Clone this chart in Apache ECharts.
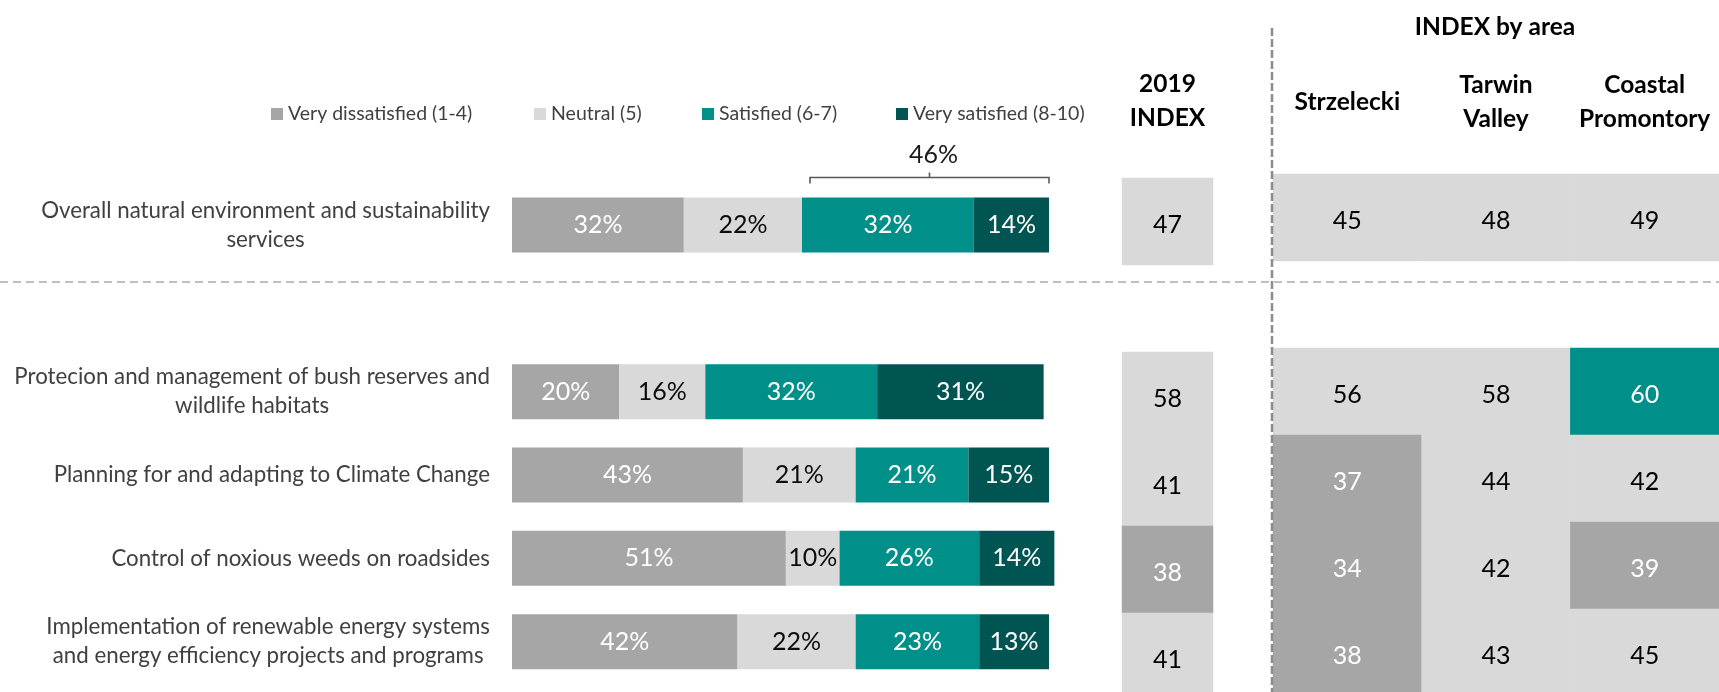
<!DOCTYPE html>
<html>
<head>
<meta charset="utf-8">
<title>Natural environment and sustainability services</title>
<script src="https://cdn.jsdelivr.net/npm/echarts@6/dist/echarts.min.js"></script>
<style>
  html, body { margin: 0; padding: 0; background: #ffffff; }
  #chart { width: 1719px; height: 692px; }
</style>
</head>
<body>
<div id="chart"></div>
<script>
// Service rows (row 1 is an empty spacer between the overall score and the individual services)
const categories = [
  'Overall natural environment and sustainability\nservices',
  '',
  'Protecion and management of bush reserves and\nwildlife habitats',
  'Planning for and adapting to Climate Change',
  'Control of noxious weeds on roadsides',
  'Implementation of renewable energy systems\nand energy efficiency projects and programs'
];

// Satisfaction distribution, % of respondents
const seriesNames = ['Very dissatisfied (1-4)', 'Neutral (5)', 'Satisfied (6-7)', 'Very satisfied (8-10)'];
const veryDissatisfied = [32, null, 20, 43, 51, 42];
const neutral          = [22, null, 16, 21, 10, 22];
const satisfied        = [32, null, 32, 21, 26, 23];
const verySatisfied    = [14, null, 31, 15, 14, 13];

// Index scores
const indexColumn = ['2019\nINDEX'];
const index2019   = [47, null, 58, 41, 38, 41];
const areas       = ['Strzelecki', 'Tarwin\nValley', 'Coastal\nPromontory'];
const strzelecki  = [45, null, 56, 37, 34, 38];
const tarwinValley = [48, null, 58, 44, 42, 43];
const coastalPromontory = [49, null, 60, 42, 39, 45];

const COLORS = {
  darkGrey: '#A6A6A6',
  lightGrey: '#D9D9D9',
  teal: '#009089',
  darkTeal: '#005452'
};
const FONT = 'Lato, "Open Sans", sans-serif';

// Shading rule for index cells: below 40 dark grey, 60+ teal, otherwise light grey
function cellColor(v) {
  if (v < 40) return COLORS.darkGrey;
  if (v >= 60) return COLORS.teal;
  return COLORS.lightGrey;
}
function cellTextColor(v) {
  return (v < 40 || v >= 60) ? '#ffffff' : '#000000';
}
function heatData(columns) {
  const out = [];
  columns.forEach(function (col, x) {
    col.forEach(function (v, y) {
      if (v === null) return;
      out.push({
        value: [x, y, v],
        itemStyle: { color: cellColor(v) },
        label: { color: cellTextColor(v) }
      });
    });
  });
  return out;
}

const rowKeys = categories.map(function (_, i) { return String(i); });

// Bracket over the satisfied share of the overall row
const bracketData = [[
  veryDissatisfied[0] + neutral[0],
  veryDissatisfied[0] + neutral[0] + satisfied[0] + verySatisfied[0],
  0,
  satisfied[0] + verySatisfied[0]
]];

const barSeriesData = [veryDissatisfied, neutral, satisfied, verySatisfied];
const barColors = [COLORS.darkGrey, COLORS.lightGrey, COLORS.teal, COLORS.darkTeal];
const barLabelColors = ['#ffffff', '#0d0d0d', '#ffffff', '#ffffff'];

const barSeries = barSeriesData.map(function (values, i) {
  return {
    name: seriesNames[i],
    type: 'bar',
    stack: 'total',
    xAxisIndex: 0,
    yAxisIndex: 0,
    barWidth: 55,
    clip: false,
    data: values,
    itemStyle: { color: barColors[i] },
    label: {
      show: true,
      position: 'inside',
      formatter: function (p) { return p.value + '%'; },
      color: barLabelColors[i],
      fontFamily: FONT,
      fontSize: 25
    },
    emphasis: { disabled: true }
  };
});

const legendStarts = [271, 534, 702, 896];
const legends = seriesNames.map(function (name, i) {
  return {
    data: [name],
    left: legendStarts[i],
    top: 104,
    padding: 0,
    icon: 'rect',
    itemWidth: 12,
    itemHeight: 12,
    selectedMode: false,
    textStyle: { color: '#404040', fontFamily: FONT, fontSize: 19.5 }
  };
});

const headerLabel = {
  show: true,
  fontFamily: FONT,
  fontSize: 24.5,
  fontWeight: 'bold',
  color: '#000000',
  lineHeight: 34,
  verticalAlign: 'middle'
};

const cellLabel = {
  show: true,
  fontFamily: FONT,
  fontSize: 25,
  offset: [0, 3],
  formatter: function (p) { return p.value[2]; }
};

const option = {
  animation: false,
  backgroundColor: '#ffffff',
  textStyle: { fontFamily: FONT },
  legend: legends,
  grid: [
    { left: 512, width: 537, top: 183.33, height: 500, outerBoundsMode: 'none' },
    { left: 1122, width: 91, top: 178, height: 522, outerBoundsMode: 'none' },
    { left: 1273, width: 446, top: 174, height: 522, outerBoundsMode: 'none' }
  ],
  xAxis: [
    { gridIndex: 0, type: 'value', min: 0, max: 100, show: false },
    {
      gridIndex: 1, type: 'category', position: 'top', data: indexColumn,
      axisLine: { show: false }, axisTick: { show: false },
      axisLabel: Object.assign({ margin: 77 }, headerLabel)
    },
    {
      gridIndex: 2, type: 'category', position: 'top', data: areas,
      axisLine: { show: false }, axisTick: { show: false },
      axisLabel: Object.assign({ margin: 72, interval: 0 }, headerLabel)
    }
  ],
  yAxis: [
    {
      gridIndex: 0, type: 'category', inverse: true, data: categories,
      axisLine: { show: false }, axisTick: { show: false }, splitLine: { show: false },
      axisLabel: {
        margin: 22,
        interval: 0,
        align: 'right',
        formatter: function (v) {
          if (!v) return '';
          return v.split('\n').map(function (line) { return '{c|' + line + '}'; }).join('\n');
        },
        rich: {
          c: { align: 'center', color: '#404040', fontFamily: FONT, fontSize: 22.3, lineHeight: 29 }
        }
      }
    },
    { gridIndex: 1, type: 'category', inverse: true, data: rowKeys, show: false },
    { gridIndex: 2, type: 'category', inverse: true, data: rowKeys, show: false }
  ],
  series: barSeries.concat([
    {
      type: 'custom',
      xAxisIndex: 0,
      yAxisIndex: 0,
      data: bracketData,
      silent: true,
      renderItem: function (params, api) {
        const a = api.coord([api.value(0), api.value(2)]);
        const b = api.coord([api.value(1), api.value(2)]);
        const x0 = a[0] + 8;
        const x1 = b[0];
        const top = a[1] - 27.5 - 20;
        const mid = (x0 + x1) / 2;
        const stroke = { stroke: '#595959', lineWidth: 1.6, fill: null };
        return {
          type: 'group',
          children: [
            { type: 'polyline', shape: { points: [[x0, top + 6], [x0, top], [x1, top], [x1, top + 6]] }, style: stroke },
            { type: 'line', shape: { x1: mid, y1: top, x2: mid, y2: top - 5 }, style: stroke },
            {
              type: 'text',
              x: mid + 4, y: top - 23,
              style: {
                text: api.value(3) + '%',
                textAlign: 'center', textVerticalAlign: 'middle',
                fill: '#1a1a1a', font: '25px ' + FONT
              }
            }
          ]
        };
      }
    },
    {
      type: 'heatmap',
      xAxisIndex: 1,
      yAxisIndex: 1,
      data: heatData([index2019]),
      label: cellLabel,
      emphasis: { disabled: true }
    },
    {
      type: 'heatmap',
      xAxisIndex: 2,
      yAxisIndex: 2,
      data: heatData([strzelecki, tarwinValley, coastalPromontory]),
      label: cellLabel,
      emphasis: { disabled: true }
    }
  ]),
  graphic: [
    {
      type: 'line', z: 100, silent: true,
      shape: { x1: 0, y1: 282, x2: 1719, y2: 282 },
      style: { stroke: '#BFBFBF', lineWidth: 2, lineDash: [8, 5] }
    },
    {
      type: 'line', z: 101, silent: true,
      shape: { x1: 1272, y1: 28, x2: 1272, y2: 692 },
      style: { stroke: '#8C8C8C', lineWidth: 2.5, lineDash: [8, 3] }
    },
    {
      type: 'text', z: 100, silent: true,
      x: 1495, y: 27,
      style: {
        text: 'INDEX by area',
        textAlign: 'center', textVerticalAlign: 'middle',
        fill: '#000000', font: 'bold 24.5px ' + FONT
      }
    }
  ]
};

const chart = echarts.init(document.getElementById('chart'), null, { renderer: 'canvas' });
chart.setOption(option);
</script>
</body>
</html>
